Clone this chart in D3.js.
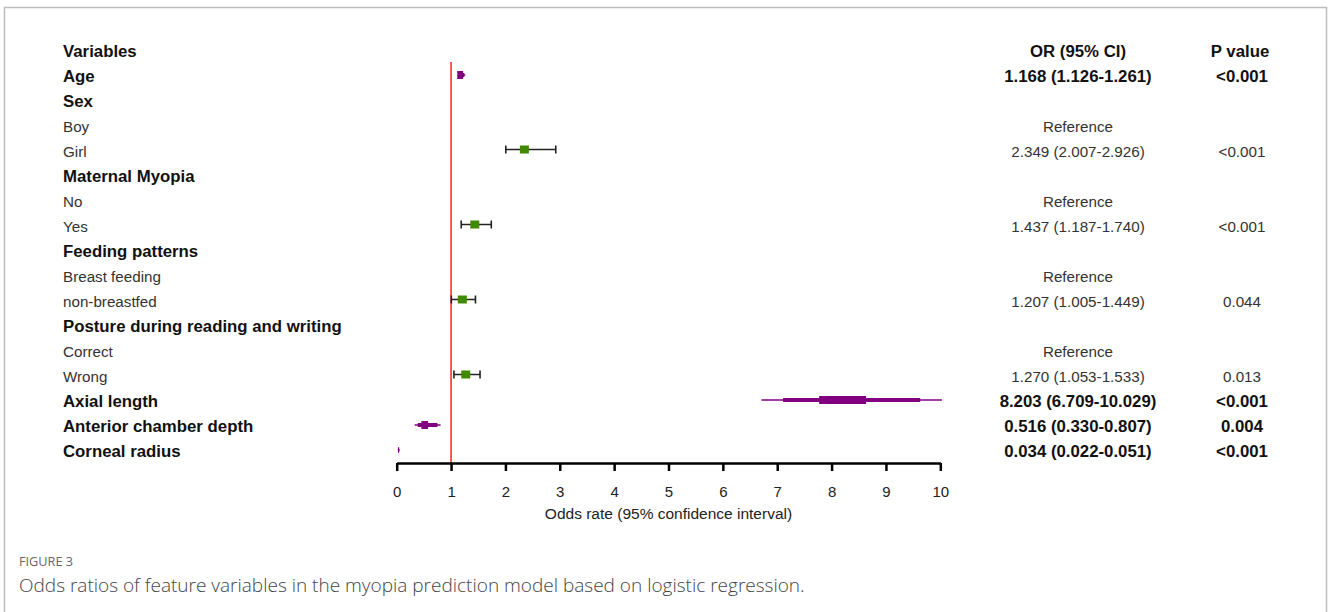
<!DOCTYPE html>
<html>
<head>
<meta charset="utf-8">
<script src="https://cdn.jsdelivr.net/npm/d3@7"></script>
<style>
  body { margin: 0; background: #fff; }
  svg { display: block; }
</style>
</head>
<body>
<div id="chart"></div>
<script>
// rows of the forest plot (header row "Variables" is drawn separately)
const labels = ["Age", "Sex", "Boy", "Girl", "Maternal Myopia", "No", "Yes",
  "Feeding patterns", "Breast feeding", "non-breastfed",
  "Posture during reading and writing", "Correct", "Wrong",
  "Axial length", "Anterior chamber depth", "Corneal radius"];
const boldRow = [true, true, false, false, true, false, false, true, false, false,
  true, false, false, true, true, true];
const orValue = [1.168, null, null, 2.349, null, null, 1.437, null, null, 1.207,
  null, null, 1.270, 8.203, 0.516, 0.034];
const ciLow = [1.126, null, null, 2.007, null, null, 1.187, null, null, 1.005,
  null, null, 1.053, 6.709, 0.330, 0.022];
const ciHigh = [1.261, null, null, 2.926, null, null, 1.740, null, null, 1.449,
  null, null, 1.533, 10.029, 0.807, 0.051];
const orText = ["1.168 (1.126-1.261)", "", "Reference", "2.349 (2.007-2.926)", "",
  "Reference", "1.437 (1.187-1.740)", "", "Reference", "1.207 (1.005-1.449)", "",
  "Reference", "1.270 (1.053-1.533)", "8.203 (6.709-10.029)", "0.516 (0.330-0.807)",
  "0.034 (0.022-0.051)"];
const pText = ["<0.001", "", "", "<0.001", "", "", "<0.001", "", "", "0.044", "",
  "", "0.013", "<0.001", "0.004", "<0.001"];
// continuous variables are drawn as purple bands, categorical ones as green boxes
const markType = ["band", null, null, "box", null, null, "box", null, null, "box",
  null, null, "box", "band", "band", "band"];
const xTicks = [0, 1, 2, 3, 4, 5, 6, 7, 8, 9, 10];

const W = 1328, H = 612;
const font = "'Liberation Sans', Arial, sans-serif";
const boldSize = "16.8px", normalSize = "15.2px";

const svg = d3.select("#chart").append("svg")
    .attr("width", W)
    .attr("height", H);

// figure frame (no bottom edge)
svg.append("path")
    .attr("d", "M4.5," + H + "V7.5H1326.5V" + H)
    .attr("fill", "none")
    .attr("stroke", "#bdbdbd")
    .attr("stroke-width", 1.5);

const x = d3.scaleLinear().domain([0, 10]).range([396.7, 940.3]);
const y = d3.scaleLinear().domain([-1, 15]).range([51, 451]);
const axisY = 463;

// header
const header = svg.append("g")
    .style("font-family", font)
    .style("font-weight", "bold")
    .style("font-size", boldSize)
    .attr("fill", "#111");
header.append("text").attr("x", 63).attr("y", y(-1) + 6).text("Variables");
header.append("text").attr("x", 1078).attr("y", y(-1) + 6)
    .attr("text-anchor", "middle").text("OR (95% CI)");
header.append("text").attr("x", 1240).attr("y", y(-1) + 6)
    .attr("text-anchor", "middle").text("P value");

// row labels and table columns
const rows = svg.append("g").selectAll("g")
    .data(labels)
    .enter().append("g")
    .style("font-family", font)
    .style("font-weight", (d, i) => boldRow[i] ? "bold" : "normal")
    .style("font-size", (d, i) => boldRow[i] ? boldSize : normalSize)
    .attr("fill", (d, i) => boldRow[i] ? "#111" : "#333");

rows.append("text")
    .attr("x", 63)
    .attr("y", (d, i) => y(i) + (boldRow[i] ? 6 : 5.5))
    .text(d => d);

rows.append("text")
    .attr("x", 1078)
    .attr("y", (d, i) => y(i) + (boldRow[i] ? 6 : 5.5))
    .attr("text-anchor", "middle")
    .text((d, i) => orText[i]);

rows.append("text")
    .attr("x", 1242)
    .attr("y", (d, i) => y(i) + (boldRow[i] ? 6 : 5.5))
    .attr("text-anchor", "middle")
    .text((d, i) => pText[i]);

// reference line at OR = 1
svg.append("line")
    .attr("x1", x(1)).attr("x2", x(1))
    .attr("y1", 62).attr("y2", axisY)
    .attr("stroke", "#ff2020")
    .attr("stroke-width", 1.5);

const idx = d3.range(labels.length).filter(i => orValue[i] !== null);

// green boxes with capped error bars
const boxes = svg.append("g").selectAll("g")
    .data(idx.filter(i => markType[i] === "box"))
    .enter().append("g")
    .attr("transform", i => "translate(0," + (y(i) - 1.5) + ")");
boxes.append("line")
    .attr("x1", i => x(ciLow[i])).attr("x2", i => x(ciHigh[i]))
    .attr("stroke", "#222").attr("stroke-width", 1.5);
boxes.append("line")
    .attr("x1", i => x(ciLow[i])).attr("x2", i => x(ciLow[i]))
    .attr("y1", -4).attr("y2", 4)
    .attr("stroke", "#222").attr("stroke-width", 1.6);
boxes.append("line")
    .attr("x1", i => x(ciHigh[i])).attr("x2", i => x(ciHigh[i]))
    .attr("y1", -4).attr("y2", 4)
    .attr("stroke", "#222").attr("stroke-width", 1.6);
boxes.append("rect")
    .attr("x", i => x(orValue[i]) - 4.5)
    .attr("y", -4)
    .attr("width", 9).attr("height", 8)
    .attr("fill", "#3f8a00");

// purple bands: thin full CI, medium inner part, thick core round the estimate
const spanPx = i => x(ciHigh[i]) - x(ciLow[i]);
const coreHalf = i => Math.max(spanPx(i) * 0.13, Math.min(3, spanPx(i) * 0.4));
const bands = svg.append("g").selectAll("g")
    .data(idx.filter(i => markType[i] === "band"))
    .enter().append("g")
    .attr("transform", i => "translate(0," + (y(i) - 1) + ")");
bands.append("line")
    .attr("x1", i => x(ciLow[i])).attr("x2", i => x(ciHigh[i]))
    .attr("stroke", "#800080").attr("stroke-width", 1.5);
bands.append("line")
    .attr("x1", i => x(ciLow[i] + (ciHigh[i] - ciLow[i]) * 0.12))
    .attr("x2", i => x(ciHigh[i] - (ciHigh[i] - ciLow[i]) * 0.12))
    .attr("stroke", "#800080")
    .attr("stroke-width", i => Math.min(4, spanPx(i) * 1.5));
bands.append("line")
    .attr("x1", i => x(orValue[i]) - coreHalf(i))
    .attr("x2", i => x(orValue[i]) + coreHalf(i))
    .attr("stroke", "#800080")
    .attr("stroke-width", i => Math.min(8, spanPx(i) * 3.5));

// x axis
const axis = svg.append("g")
    .attr("transform", "translate(0," + axisY + ")")
    .call(d3.axisBottom(x).tickValues(xTicks).tickFormat(d3.format("d"))
      .tickSize(8).tickSizeOuter(0).tickPadding(15));
axis.select(".domain").attr("stroke", "#000").attr("stroke-width", 2.5);
axis.selectAll(".tick line").attr("stroke", "#000").attr("stroke-width", 2.5);
axis.selectAll(".tick text")
    .style("font-family", font)
    .style("font-size", "15px")
    .attr("fill", "#222");

svg.append("text")
    .attr("x", x(5))
    .attr("y", 519)
    .attr("text-anchor", "middle")
    .style("font-family", font)
    .style("font-size", "15.5px")
    .attr("fill", "#222")
    .text("Odds rate (95% confidence interval)");

// caption
svg.append("text")
    .attr("x", 19).attr("y", 566)
    .style("font-family", "'Open Sans', sans-serif")
    .style("font-size", "12.7px")
    .attr("fill", "#666")
    .text("FIGURE 3");
svg.append("text")
    .attr("x", 19).attr("y", 592)
    .style("font-family", "'Open Sans', sans-serif")
    .style("font-size", "19px")
    .style("font-weight", 300)
    .attr("fill", "#444")
    .text("Odds ratios of feature variables in the myopia prediction model based on logistic regression.");
</script>
</body>
</html>
